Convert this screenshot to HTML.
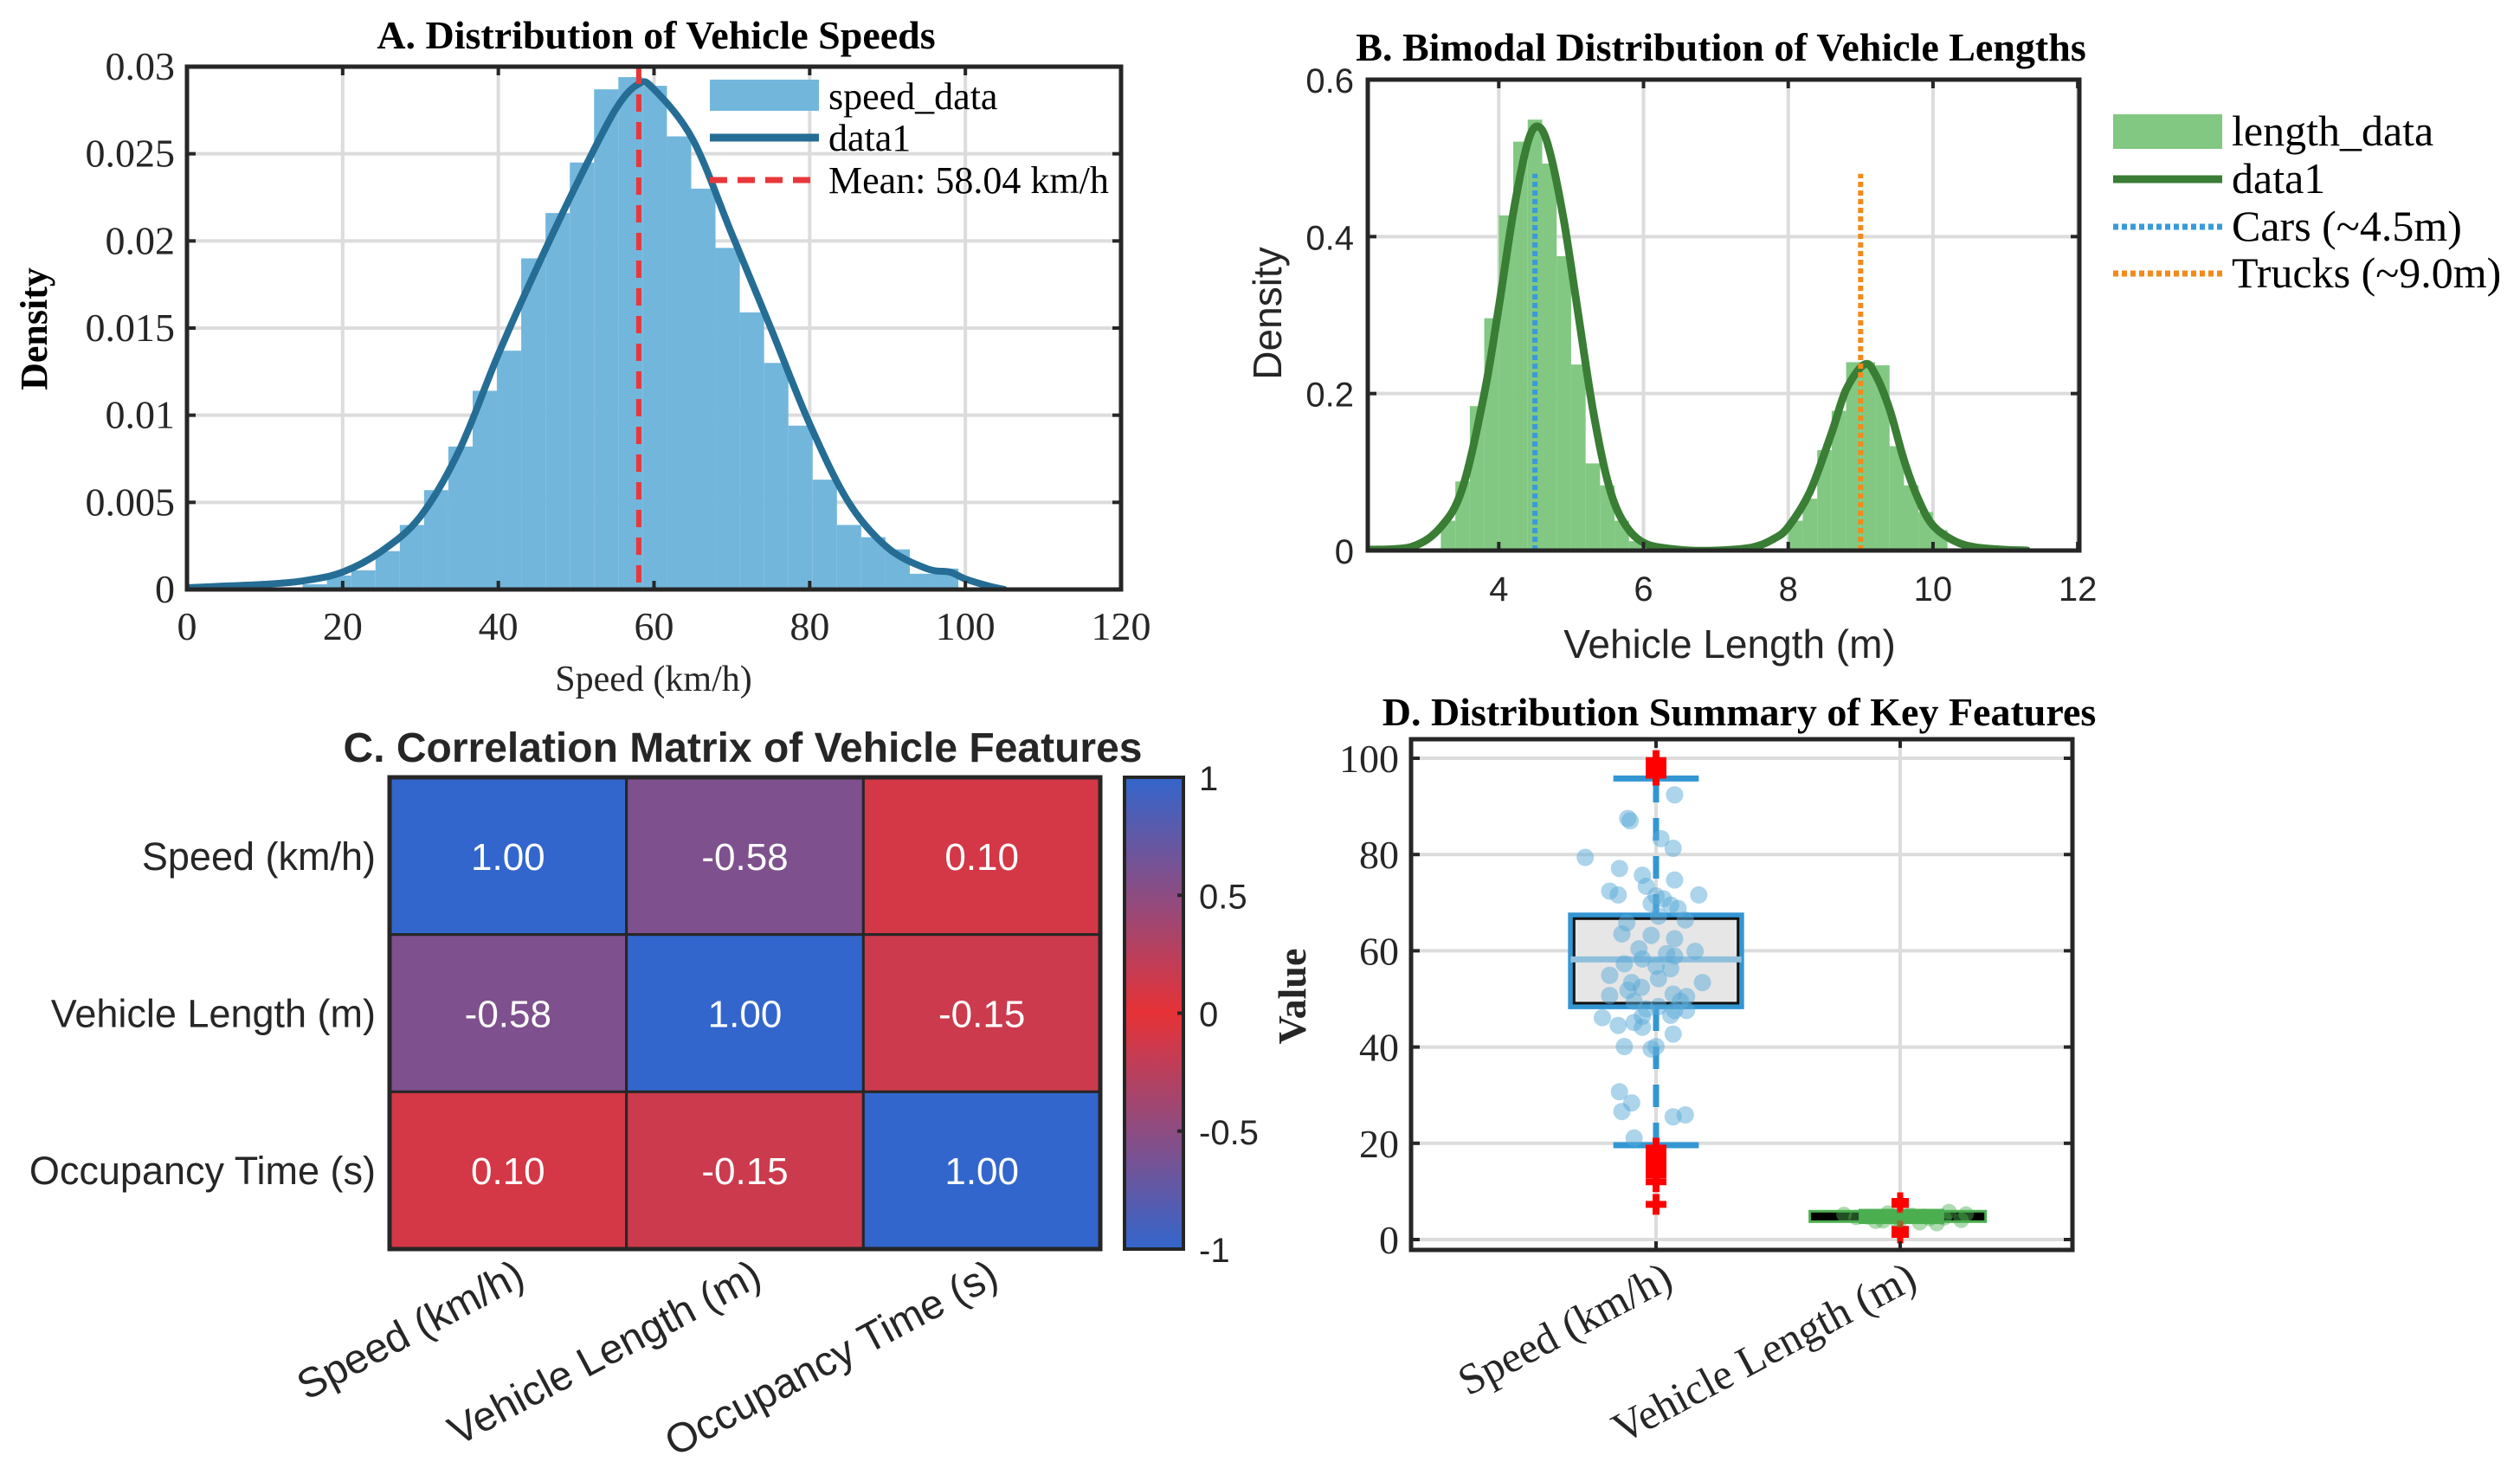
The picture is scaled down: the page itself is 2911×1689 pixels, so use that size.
<!DOCTYPE html>
<html><head><meta charset="utf-8"><style>
html,body{margin:0;padding:0;background:#fff;}
svg{display:block;}
.tnr{font-family:"Liberation Serif",serif;}
.ars{font-family:"Liberation Sans",sans-serif;}
</style></head><body>
<svg id="fig" width="2911" height="1689" viewBox="0 0 2911 1689" xmlns="http://www.w3.org/2000/svg">
<defs>
<linearGradient id="cbgrad" x1="0" y1="0" x2="0" y2="1">
<stop offset="0" stop-color="#3366cc"/><stop offset="0.5" stop-color="#e63237"/><stop offset="1" stop-color="#3366cc"/>
</linearGradient>
<clipPath id="clipA"><rect x="216" y="77" width="1079" height="604"/></clipPath>
<clipPath id="clipB"><rect x="1580" y="92" width="822" height="544"/></clipPath>
</defs>
<g id="pA"></g>
<g id="pB"></g>
<g id="pC"></g>
<g id="pD"></g>
</svg>
<script>
// ---------- Panel A data ----------
const speedBinStart = 14.86;
const speedBinWidth = 3.12;
const speedHist = [0.0003,0.0008,0.0011,0.0022,0.0037,0.0057,0.0082,0.0114,0.0137,0.0190,0.0216,0.0245,0.0287,0.0294,0.0289,0.0260,0.0230,0.0196,0.0159,0.0130,0.0094,0.0063,0.0037,0.0030,0.0023,0.0009,0.0012];
const speedKdeX = [0,5,10,15,20,25,30,35,40,45,50,55,58,60,65,70,75,80,85,90,95,98,100,103,105];
const speedKdeY = [0.0001,0.0002,0.0003,0.0005,0.0010,0.0022,0.0042,0.0080,0.0135,0.0185,0.0232,0.0275,0.0290,0.0287,0.0258,0.0204,0.0150,0.0095,0.0050,0.0024,0.0012,0.0010,0.0006,0.0002,0.0000];
const speedMean = 58.04;
const speedXTicks = [0,20,40,60,80,100,120];
const speedYTicks = [0,0.005,0.01,0.015,0.02,0.025,0.03];
const speedYTickLabels = ["0","0.005","0.01","0.015","0.02","0.025","0.03"];
// ---------- Panel B data ----------
const lenBinStart = 3.2;
const lenBinWidth = 0.2;
const lenHist = [0.038,0.088,0.184,0.296,0.427,0.521,0.549,0.493,0.375,0.237,0.111,0.083,0.038,0.012,0,0,0,0,0,0,0,0,0,0,0.038,0.066,0.128,0.178,0.240,0.240,0.236,0.133,0.083,0.049,0.026];
const lenKdeX = [2.2,2.8,3.2,3.5,3.8,4.0,4.2,4.4,4.55,4.7,4.9,5.1,5.3,5.5,5.7,6.0,6.5,7.0,7.5,7.8,8.0,8.3,8.6,8.8,9.05,9.2,9.4,9.6,9.8,10.0,10.3,10.6,11.0,11.3];
const lenKdeY = [0.001,0.005,0.03,0.08,0.2,0.31,0.43,0.52,0.54,0.51,0.42,0.3,0.18,0.09,0.04,0.01,0.001,0.0,0.004,0.015,0.03,0.075,0.15,0.205,0.237,0.225,0.18,0.115,0.065,0.032,0.012,0.004,0.001,0.0];
const lenXTicks = [4,6,8,10,12];
const lenYTicks = [0,0.2,0.4,0.6];
const carsRef = 4.5, trucksRef = 9.0, refTop = 0.48;
// ---------- Panel C data ----------
const corrLabels = ["Speed (km/h)","Vehicle Length (m)","Occupancy Time (s)"];
const corrRow0 = [1.00,-0.58,0.10];
const corrRow1 = [-0.58,1.00,-0.15];
const corrRow2 = [0.10,-0.15,1.00];
const cbTicks = [1,0.5,0,-0.5,-1];
// ---------- Panel D data ----------
const boxCats = ["Speed (km/h)","Vehicle Length (m)"];
const speedBox = [19.6,48.4,58.2,67.4,95.8];
const lengthBox = [3.5,4.3,4.8,5.3,6.0];
const speedOutliers = [99.5,98.7,98.0,97.3,96.5,19.0,18.0,17.0,16.0,15.0,14.0,13.5,12.0,7.3];
const lengthOutliers = [8.0,7.2,2.2,1.5,1.0];
const speedPtsY = [92.4,87.5,87,83.3,81.3,79.4,77.1,75.7,74.7,73.4,72.4,71.6,71.6,71.4,70.8,69.8,69.5,68.8,67.2,66.4,65.8,63.5,63.2,62.5,60.4,59.9,59.4,58.3,58.9,57.3,56.8,56.3,54.9,53.4,54.2,53.4,52.4,51.8,50.7,51,50.5,49.5,49.5,48.4,47.9,47.6,47.6,46.1,46.4,46.6,44.5,45.1,44.1,42.7,40.1,39.6,40.1,30.7,28.4,26.6,25.5,25.9,21.1];
const speedPtsJit = [0.076,-0.116,-0.106,0.02,0.07,-0.29,-0.15,-0.056,0.076,-0.04,-0.19,-0.155,0.175,0,0.03,-0.02,0.06,0.09,0.01,0.12,-0.12,-0.14,-0.02,0.076,-0.07,0.16,0.043,-0.056,0.076,-0.13,0,0.06,-0.19,0.19,0.01,-0.1,-0.06,-0.115,-0.19,0.07,0.125,-0.09,0.1,0.01,-0.04,0.076,0.125,-0.22,-0.056,0.06,-0.155,-0.09,-0.056,0.07,-0.13,-0.02,0,-0.15,-0.1,-0.14,0.07,0.12,-0.09];
const lenPtsY = [5.2,4.6,3.8,5.5,4.1,4.9,3.5,4.4,5.8,4.0,4.7,3.3,5.0,4.3,4.8,5.3,3.9,4.5];
const lenPtsJit = [-0.23,-0.18,-0.1,-0.05,0.0,0.03,0.08,0.12,0.2,0.25,-0.13,0.15,0.05,-0.02,0.1,0.27,-0.07,0.18];

const NS="http://www.w3.org/2000/svg";
function mk(parent,tag,attrs,text){const e=document.createElementNS(NS,tag);for(const k in attrs)e.setAttribute(k,attrs[k]);if(text!==undefined)e.textContent=text;parent.appendChild(e);return e;}
function smooth(pts){let d='M'+pts[0][0].toFixed(1)+','+pts[0][1].toFixed(1);
for(let i=0;i<pts.length-1;i++){const p0=pts[Math.max(0,i-1)],p1=pts[i],p2=pts[i+1],p3=pts[Math.min(pts.length-1,i+2)];
const c1x=p1[0]+(p2[0]-p0[0])/6,c1y=p1[1]+(p2[1]-p0[1])/6,c2x=p2[0]-(p3[0]-p1[0])/6,c2y=p2[1]-(p3[1]-p1[1])/6;
d+=' C'+c1x.toFixed(1)+','+c1y.toFixed(1)+' '+c2x.toFixed(1)+','+c2y.toFixed(1)+' '+p2[0].toFixed(1)+','+p2[1].toFixed(1);}
return d;}
const GRID="#dcdcdc", AX="#262626";

// ================= Panel A =================
(function(){
const g=document.getElementById('pA');
const L=216,R=1295,T=77,B=681;
const sx=v=>L+v*(R-L)/120, sy=v=>B-v*(B-T)/0.03;
speedXTicks.forEach(v=>{const l=mk(g,'line',{x1:sx(v),x2:sx(v),y1:T,y2:B,stroke:GRID,'stroke-width':4});

});
speedYTicks.forEach(v=>{const l=mk(g,'line',{x1:L,x2:R,y1:sy(v),y2:sy(v),stroke:GRID,'stroke-width':4});

});
const cg=mk(g,'g',{'clip-path':'url(#clipA)'});
speedHist.forEach((d,i)=>{const x0=speedBinStart+i*speedBinWidth;
const r=mk(cg,'rect',{x:sx(x0),y:sy(d),width:sx(x0+speedBinWidth)-sx(x0),height:B-sy(d),fill:'#72b6dc'});

});
const kde=mk(cg,'path',{d:smooth(speedKdeX.map((x,i)=>[sx(x),sy(speedKdeY[i])])),fill:'none',stroke:'#256d94','stroke-width':8,'stroke-linejoin':'round','stroke-linecap':'round'});


const ml=mk(g,'line',{x1:sx(speedMean),x2:sx(speedMean),y1:T,y2:B,stroke:'#e8373a','stroke-width':6,'stroke-dasharray':'20 12'});


mk(g,'rect',{x:L,y:T,width:R-L,height:B-T,fill:'none',stroke:AX,'stroke-width':5});
speedXTicks.forEach((v,i)=>{mk(g,'line',{x1:sx(v),x2:sx(v),y1:B,y2:B-10,stroke:AX,'stroke-width':4});mk(g,'line',{x1:sx(v),x2:sx(v),y1:T,y2:T+10,stroke:AX,'stroke-width':4});
const t=mk(g,'text',{x:sx(v),y:B+58,'text-anchor':'middle','font-size':46,fill:'#262626',class:'tnr'},String(v));

});
speedYTicks.forEach((v,i)=>{mk(g,'line',{x1:L,x2:L+10,y1:sy(v),y2:sy(v),stroke:AX,'stroke-width':4});mk(g,'line',{x1:R,x2:R-10,y1:sy(v),y2:sy(v),stroke:AX,'stroke-width':4});
const t=mk(g,'text',{x:L-14,y:sy(v)+15,'text-anchor':'end','font-size':46,fill:'#262626',class:'tnr'},speedYTickLabels[i]);

});
const tt=mk(g,'text',{x:758,y:56,'text-anchor':'middle','font-size':46,'font-weight':'bold',class:'tnr'},'A. Distribution of Vehicle Speeds');


const xl=mk(g,'text',{x:755,y:798,'text-anchor':'middle','font-size':42,fill:'#262626',class:'tnr'},'Speed (km/h)');


const yl=mk(g,'text',{x:0,y:0,transform:'translate(54,380) rotate(-90)','text-anchor':'middle','font-size':44,'font-weight':'bold',class:'tnr'},'Density');


const lg=mk(g,'g',{});


mk(lg,'rect',{x:820,y:92,width:126,height:36,fill:'#72b6dc'});
mk(lg,'text',{x:957,y:126,'font-size':44,class:'tnr'},'speed_data');
mk(lg,'line',{x1:820,x2:946,y1:159,y2:159,stroke:'#256d94','stroke-width':9});
mk(lg,'text',{x:957,y:174,'font-size':44,class:'tnr'},'data1');
mk(lg,'line',{x1:820,x2:946,y1:208,y2:208,stroke:'#e8373a','stroke-width':7,'stroke-dasharray':'20 12'});
mk(lg,'text',{x:957,y:223,'font-size':44,class:'tnr'},'Mean: 58.04 km/h');
})();

// ================= Panel B =================
(function(){
const g=document.getElementById('pB');
const L=1580,R=2402,T=92,B=636;
const sx=v=>L+(v-2.19)*83.6, sy=v=>B-v*(B-T)/0.6;
lenXTicks.forEach(v=>{const l=mk(g,'line',{x1:sx(v),x2:sx(v),y1:T,y2:B,stroke:GRID,'stroke-width':4});

});
lenYTicks.forEach(v=>{const l=mk(g,'line',{x1:L,x2:R,y1:sy(v),y2:sy(v),stroke:GRID,'stroke-width':4});

});
const cg=mk(g,'g',{'clip-path':'url(#clipB)'});
lenHist.forEach((d,i)=>{if(d<=0)return;const x0=lenBinStart+i*lenBinWidth;
const r=mk(cg,'rect',{x:sx(x0),y:sy(d),width:sx(x0+lenBinWidth)-sx(x0),height:B-sy(d),fill:'#82c882'});

});
const kde=mk(cg,'path',{d:smooth(lenKdeX.map((x,i)=>[sx(x),sy(lenKdeY[i])])),fill:'none',stroke:'#3a7d35','stroke-width':9,'stroke-linejoin':'round','stroke-linecap':'round'});


const c1=mk(g,'line',{x1:sx(carsRef),x2:sx(carsRef),y1:sy(0),y2:sy(refTop),stroke:'#3a9ad9','stroke-width':6,'stroke-dasharray':'6 4'});


const c2=mk(g,'line',{x1:sx(trucksRef),x2:sx(trucksRef),y1:sy(0),y2:sy(refTop),stroke:'#f28a1c','stroke-width':6,'stroke-dasharray':'6 4'});


mk(g,'rect',{x:L,y:T,width:R-L,height:B-T,fill:'none',stroke:AX,'stroke-width':5});
lenXTicks.forEach(v=>{mk(g,'line',{x1:sx(v),x2:sx(v),y1:B,y2:B-10,stroke:AX,'stroke-width':4});mk(g,'line',{x1:sx(v),x2:sx(v),y1:T,y2:T+10,stroke:AX,'stroke-width':4});
const t=mk(g,'text',{x:sx(v),y:B+58,'text-anchor':'middle','font-size':40,fill:'#262626',class:'ars'},String(v));

});
lenYTicks.forEach(v=>{mk(g,'line',{x1:L,x2:L+10,y1:sy(v),y2:sy(v),stroke:AX,'stroke-width':4});mk(g,'line',{x1:R,x2:R-10,y1:sy(v),y2:sy(v),stroke:AX,'stroke-width':4});
const t=mk(g,'text',{x:L-16,y:sy(v)+15,'text-anchor':'end','font-size':40,fill:'#262626',class:'ars'},String(v));

});
const tt=mk(g,'text',{x:1988,y:70,'text-anchor':'middle','font-size':46,'font-weight':'bold',class:'tnr'},'B. Bimodal Distribution of Vehicle Lengths');


const xl=mk(g,'text',{x:1998,y:760,'text-anchor':'middle','font-size':46,fill:'#262626',class:'ars'},'Vehicle Length (m)');


const yl=mk(g,'text',{x:0,y:0,transform:'translate(1480,362) rotate(-90)','text-anchor':'middle','font-size':46,fill:'#262626',class:'ars'},'Density');


const lg=mk(g,'g',{});


mk(lg,'rect',{x:2441,y:132,width:126,height:40,fill:'#82c882'});
mk(lg,'text',{x:2578,y:168,'font-size':50,class:'tnr'},'length_data');
mk(lg,'line',{x1:2441,x2:2567,y1:207,y2:207,stroke:'#3a7d35','stroke-width':9});
mk(lg,'text',{x:2578,y:223,'font-size':50,class:'tnr'},'data1');
mk(lg,'line',{x1:2441,x2:2567,y1:262,y2:262,stroke:'#3a9ad9','stroke-width':7,'stroke-dasharray':'6 4'});
mk(lg,'text',{x:2578,y:278,'font-size':50,class:'tnr'},'Cars (~4.5m)');
mk(lg,'line',{x1:2441,x2:2567,y1:316,y2:316,stroke:'#f28a1c','stroke-width':7,'stroke-dasharray':'6 4'});
mk(lg,'text',{x:2578,y:332,'font-size':50,class:'tnr'},'Trucks (~9.0m)');
})();

// ================= Panel C =================
(function(){
const g=document.getElementById('pC');
const L=450,R=1271,T=898,B=1443;
const cw=(R-L)/3, ch=(B-T)/3;
const rows=[corrRow0,corrRow1,corrRow2];
function col(v){const t=Math.min(1,Math.abs(v));const a=[230,50,55],b=[51,102,204];
return 'rgb('+a.map((c,i)=>Math.round(c+(b[i]-c)*t)).join(',')+')';}
rows.forEach((row,r)=>row.forEach((v,c)=>{
const cell=mk(g,'rect',{x:L+c*cw,y:T+r*ch,width:cw,height:ch,fill:col(v),stroke:'#262626','stroke-width':3});


const t=mk(g,'text',{x:L+c*cw+cw/2,y:T+r*ch+ch/2+16,'text-anchor':'middle','font-size':44,fill:'#fff',class:'ars'},v.toFixed(2));


}));
mk(g,'rect',{x:L,y:T,width:R-L,height:B-T,fill:'none',stroke:'#262626','stroke-width':5});
corrLabels.forEach((s,i)=>{
const t=mk(g,'text',{x:L-16,y:T+i*ch+ch/2+16,'text-anchor':'end','font-size':45,fill:'#262626',class:'ars'},s);


const cx=L+i*cw+cw/2+22, cy=B+40;
const u=mk(g,'text',{x:0,y:0,transform:'translate('+cx+','+cy+') rotate(-28)','text-anchor':'end','font-size':48,fill:'#262626',class:'ars'},s);


});
const cb=mk(g,'rect',{x:1299,y:T,width:68,height:B-T,fill:'url(#cbgrad)',stroke:'#262626','stroke-width':4});


const cy=v=>T+(1-v)/2*(B-T);
cbTicks.forEach(v=>{mk(g,'line',{x1:1367,x2:1360,y1:cy(v),y2:cy(v),stroke:'#262626','stroke-width':4});
const t=mk(g,'text',{x:1385,y:cy(v)+15,'font-size':40,fill:'#262626',class:'ars'},String(v));

});
const tt=mk(g,'text',{x:858,y:880,'text-anchor':'middle','font-size':48,'font-weight':'bold',fill:'#262626',class:'ars'},'C. Correlation Matrix of Vehicle Features');


})();

// ================= Panel D =================
(function(){
const g=document.getElementById('pD');
const L=1630,R=2394,T=854,B=1444;
const sx=v=>1913+(v-1)*282, sy=v=>1432-v*5.56;
const yt=[0,20,40,60,80,100];
[1,2].forEach(v=>{const l=mk(g,'line',{x1:sx(v),x2:sx(v),y1:T,y2:B,stroke:GRID,'stroke-width':4});

});
yt.forEach(v=>{const l=mk(g,'line',{x1:L,x2:R,y1:sy(v),y2:sy(v),stroke:GRID,'stroke-width':4});

});
const hw=0.35;
const wl=mk(g,'line',{x1:sx(1),x2:sx(1),y1:sy(speedBox[0]),y2:sy(speedBox[4]),stroke:'#3396d3','stroke-width':7,'stroke-dasharray':'26 18'});


[speedBox[0],speedBox[4]].forEach(v=>{const c=mk(g,'line',{x1:sx(0.825),x2:sx(1.175),y1:sy(v),y2:sy(v),stroke:'#3396d3','stroke-width':7});

});
const bx=mk(g,'rect',{x:sx(1-hw),y:sy(speedBox[3]),width:sx(1+hw)-sx(1-hw),height:sy(speedBox[1])-sy(speedBox[3]),fill:'#e6e6e6',stroke:'#3396d3','stroke-width':6});


mk(g,'rect',{x:sx(1-hw)+4,y:sy(speedBox[3])+4,width:sx(1+hw)-sx(1-hw)-8,height:sy(speedBox[1])-sy(speedBox[3])-8,fill:'none',stroke:'#111','stroke-width':3});
const md=mk(g,'line',{x1:sx(1-hw),x2:sx(1+hw),y1:sy(speedBox[2]),y2:sy(speedBox[2]),stroke:'#8fbfdc','stroke-width':7});


speedOutliers.forEach(v=>{const o=mk(g,'path',{d:'M'+(sx(1)-12)+','+sy(v)+'h24M'+sx(1)+','+(sy(v)-12)+'v24',stroke:'#ff0000','stroke-width':8});

});
speedPtsY.forEach((v,i)=>{const c=mk(g,'circle',{cx:sx(1+speedPtsJit[i]),cy:sy(v),r:10,fill:'#5aaad8','fill-opacity':0.5});

});
const lb=mk(g,'rect',{x:sx(1.63),y:sy(lengthBox[2])-6,width:sx(2.35)-sx(1.63),height:12,fill:'#000',stroke:'#4caf50','stroke-width':3});


mk(g,'rect',{x:sx(1.83),y:sy(lengthBox[3])-6,width:sx(2.18)-sx(1.83),height:sy(lengthBox[1])-sy(lengthBox[3])+12,fill:'#4caf50'});
lengthOutliers.forEach(v=>{const o=mk(g,'path',{d:'M'+(sx(2)-10)+','+sy(v)+'h20M'+sx(2)+','+(sy(v)-10)+'v20',stroke:'#ff0000','stroke-width':7});

});
lenPtsY.forEach((v,i)=>{const c=mk(g,'circle',{cx:sx(2+lenPtsJit[i]),cy:sy(v),r:9,fill:'#4caf50','fill-opacity':0.45});

});
mk(g,'rect',{x:L,y:T,width:R-L,height:B-T,fill:'none',stroke:AX,'stroke-width':5});
yt.forEach(v=>{mk(g,'line',{x1:L,x2:L+10,y1:sy(v),y2:sy(v),stroke:AX,'stroke-width':4});mk(g,'line',{x1:R,x2:R-10,y1:sy(v),y2:sy(v),stroke:AX,'stroke-width':4});
const t=mk(g,'text',{x:L-14,y:sy(v)+16,'text-anchor':'end','font-size':46,fill:'#262626',class:'tnr'},String(v));

});
boxCats.forEach((s,i)=>{const x=sx(i+1);
mk(g,'line',{x1:x,x2:x,y1:B,y2:B-10,stroke:AX,'stroke-width':4});mk(g,'line',{x1:x,x2:x,y1:T,y2:T+10,stroke:AX,'stroke-width':4});
const t=mk(g,'text',{x:0,y:0,transform:'translate('+(x+22)+','+(B+42)+') rotate(-28)','text-anchor':'end','font-size':50,fill:'#262626',class:'tnr'},s);

});
const tt=mk(g,'text',{x:2009,y:838,'text-anchor':'middle','font-size':46,'font-weight':'bold',class:'tnr'},'D. Distribution Summary of Key Features');


const yl=mk(g,'text',{x:0,y:0,transform:'translate(1508,1151) rotate(-90)','text-anchor':'middle','font-size':46,'font-weight':'bold',fill:'#262626',class:'tnr'},'Value');


})();
</script>
</body></html>
